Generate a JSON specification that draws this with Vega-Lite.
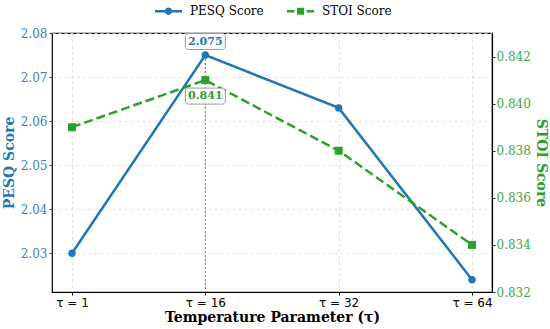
{
  "$schema": "https://vega.github.io/schema/vega-lite/v6.json",
  "width": 440,
  "height": 259,
  "autosize": {"type": "none"},
  "padding": {"left": 52, "top": 33, "right": 58, "bottom": 37},
  "background": "white",
  "config": {
    "font": "DejaVu Serif",
    "view": {"stroke": "#000000", "strokeWidth": 1.2}
  },
  "data": {
    "values": [
      {"tau": "τ = 1", "series": "PESQ Score", "value": 2.030},
      {"tau": "τ = 16", "series": "PESQ Score", "value": 2.075},
      {"tau": "τ = 32", "series": "PESQ Score", "value": 2.063},
      {"tau": "τ = 64", "series": "PESQ Score", "value": 2.024},
      {"tau": "τ = 1", "series": "STOI Score", "value": 0.839},
      {"tau": "τ = 16", "series": "STOI Score", "value": 0.841},
      {"tau": "τ = 32", "series": "STOI Score", "value": 0.838},
      {"tau": "τ = 64", "series": "STOI Score", "value": 0.834}
    ]
  },
  "encoding": {
    "x": {
      "field": "tau",
      "type": "ordinal",
      "sort": ["τ = 1", "τ = 16", "τ = 32", "τ = 64"],
      "scale": {"type": "point", "padding": 0.15},
      "axis": {
        "orient": "bottom",
        "labelAngle": 0,
        "labelFont": "DejaVu Sans",
        "labelFontSize": 12,
        "labelColor": "#000000",
        "labelPadding": 2,
        "tickSize": 3,
        "tickColor": "#000000",
        "domain": false,
        "grid": true,
        "gridDash": [3, 3],
        "gridColor": "#d9d9d9",
        "gridWidth": 0.8,
        "title": "Temperature Parameter (τ)",
        "titleFont": "DejaVu Serif",
        "titleFontSize": 14,
        "titleFontWeight": "bold",
        "titleColor": "#000000",
        "titlePadding": 2
      }
    }
  },
  "layer": [
    {
      "transform": [{"filter": "datum.series === 'PESQ Score'"}],
      "encoding": {
        "y": {
          "field": "value",
          "type": "quantitative",
          "scale": {"domain": [2.0212, 2.08], "nice": false, "zero": false},
          "axis": {
            "orient": "left",
            "values": [2.03, 2.04, 2.05, 2.06, 2.07, 2.08],
            "format": ".2f",
            "labelFont": "DejaVu Serif",
            "labelFontSize": 12,
            "labelColor": "#3a80bb",
            "labelPadding": 2,
            "labelOverlap": false,
            "labelBound": false,
            "tickSize": 3,
            "tickColor": "#333333",
            "domain": false,
            "grid": true,
            "gridDash": [3, 3],
            "gridColor": "#d9d9d9",
            "gridWidth": 0.8,
            "title": "PESQ Score",
            "titleFont": "DejaVu Serif",
            "titleFontSize": 14,
            "titleFontWeight": "bold",
            "titleColor": "#1f77b4",
            "titlePadding": 4
          }
        }
      },
      "layer": [
        {
          "transform": [{"filter": "datum.tau === 'τ = 16'"}],
          "mark": {"type": "rule", "color": "#888888", "strokeWidth": 1.2, "strokeDash": [2, 2]},
          "encoding": {"y2": {"datum": 2.0212}}
        },
        {
          "mark": {"type": "line", "color": "#1f77b4", "strokeWidth": 2.5},
          "encoding": {}
        },
        {
          "mark": {"type": "point", "shape": "circle", "filled": true, "size": 55, "color": "#1f77b4", "opacity": 1},
          "encoding": {}
        },
        {
          "mark": {"type": "point", "filled": true, "size": 729, "opacity": 0},
          "encoding": {
            "color": {
              "field": "series",
              "type": "nominal",
              "scale": {"domain": ["PESQ Score", "STOI Score"], "range": ["#1f77b4", "#2ca02c"]},
              "legend": {
                "title": null,
                "orient": "none",
                "direction": "horizontal",
                "legendX": 103,
                "legendY": -35.5,
                "padding": 0,
                "symbolSize": 729,
                "symbolOpacity": 1,
                "symbolStrokeWidth": 0,
                "labelFont": "DejaVu Serif",
                "labelFontSize": 12,
                "labelColor": "#000000",
                "labelOffset": 8,
                "columnPadding": 23
              }
            },
            "shape": {
              "field": "series",
              "type": "nominal",
              "scale": {
                "domain": ["PESQ Score", "STOI Score"],
                "range": [
                  "M-1,-0.093L1,-0.093L1,0.093L-1,0.093Z M-0.27,0A0.27,0.27 0 1,1 0.27,0A0.27,0.27 0 1,1 -0.27,0Z",
                  "M-1,-0.093L-0.45,-0.093L-0.45,0.093L-1,0.093Z M0.45,-0.093L1,-0.093L1,0.093L0.45,0.093Z M-0.26,-0.26L0.26,-0.26L0.26,0.26L-0.26,0.26Z"
                ]
              },
              "legend": {
                "title": null,
                "orient": "none",
                "direction": "horizontal",
                "legendX": 103,
                "legendY": -35.5,
                "padding": 0,
                "symbolSize": 729,
                "symbolOpacity": 1,
                "symbolStrokeWidth": 0,
                "labelFont": "DejaVu Serif",
                "labelFontSize": 12,
                "labelColor": "#000000",
                "labelOffset": 8,
                "columnPadding": 23
              }
            }
          }
        },
        {
          "transform": [{"filter": "datum.tau === 'τ = 16'"}],
          "mark": {
            "type": "point",
            "shape": "M-0.85,-0.4L0.85,-0.4A0.15,0.15 0 0,1 1,-0.25L1,0.25A0.15,0.15 0 0,1 0.85,0.4L-0.85,0.4A0.15,0.15 0 0,1 -1,0.25L-1,-0.25A0.15,0.15 0 0,1 -0.85,-0.4Z",
            "size": 1600,
            "filled": true,
            "fill": "#ffffff",
            "fillOpacity": 0.9,
            "stroke": "#999999",
            "strokeWidth": 1,
            "opacity": 1,
            "yOffset": -13.5
          },
          "encoding": {}
        },
        {
          "transform": [{"filter": "datum.tau === 'τ = 16'"}],
          "mark": {
            "type": "text",
            "font": "DejaVu Serif",
            "fontSize": 11,
            "fontWeight": "bold",
            "color": "#1f77b4",
            "baseline": "middle",
            "align": "center",
            "yOffset": -13.5
          },
          "encoding": {"text": {"field": "value", "type": "quantitative", "format": ".3f"}}
        }
      ]
    },
    {
      "transform": [{"filter": "datum.series === 'STOI Score'"}],
      "encoding": {
        "y": {
          "field": "value",
          "type": "quantitative",
          "scale": {"domain": [0.832, 0.843], "nice": false, "zero": false},
          "axis": {
            "orient": "right",
            "values": [0.832, 0.834, 0.836, 0.838, 0.84, 0.842],
            "format": ".3f",
            "labelFont": "DejaVu Serif",
            "labelFontSize": 12,
            "labelColor": "#3fa83f",
            "labelPadding": 1,
            "labelOverlap": false,
            "labelBound": false,
            "tickSize": 3,
            "tickColor": "#333333",
            "domain": true,
            "domainColor": "#000000",
            "domainWidth": 1.2,
            "grid": false,
            "title": "STOI Score",
            "titleFont": "DejaVu Serif",
            "titleFontSize": 14,
            "titleFontWeight": "bold",
            "titleColor": "#2ca02c",
            "titlePadding": 3
          }
        }
      },
      "layer": [
        {
          "mark": {"type": "line", "color": "#2ca02c", "strokeWidth": 2.5, "strokeDash": [9, 4]},
          "encoding": {}
        },
        {
          "mark": {"type": "point", "shape": "square", "filled": true, "size": 64, "color": "#2ca02c", "opacity": 1},
          "encoding": {}
        },
        {
          "transform": [{"filter": "datum.tau === 'τ = 16'"}],
          "mark": {
            "type": "point",
            "shape": "M-0.85,-0.4L0.85,-0.4A0.15,0.15 0 0,1 1,-0.25L1,0.25A0.15,0.15 0 0,1 0.85,0.4L-0.85,0.4A0.15,0.15 0 0,1 -1,0.25L-1,-0.25A0.15,0.15 0 0,1 -0.85,-0.4Z",
            "size": 1600,
            "filled": true,
            "fill": "#ffffff",
            "fillOpacity": 0.9,
            "stroke": "#999999",
            "strokeWidth": 1,
            "opacity": 1,
            "yOffset": 16
          },
          "encoding": {}
        },
        {
          "transform": [{"filter": "datum.tau === 'τ = 16'"}],
          "mark": {
            "type": "text",
            "font": "DejaVu Serif",
            "fontSize": 11,
            "fontWeight": "bold",
            "color": "#2ca02c",
            "baseline": "middle",
            "align": "center",
            "yOffset": 16
          },
          "encoding": {"text": {"field": "value", "type": "quantitative", "format": ".3f"}}
        }
      ]
    }
  ],
  "resolve": {"scale": {"y": "independent"}}
}
